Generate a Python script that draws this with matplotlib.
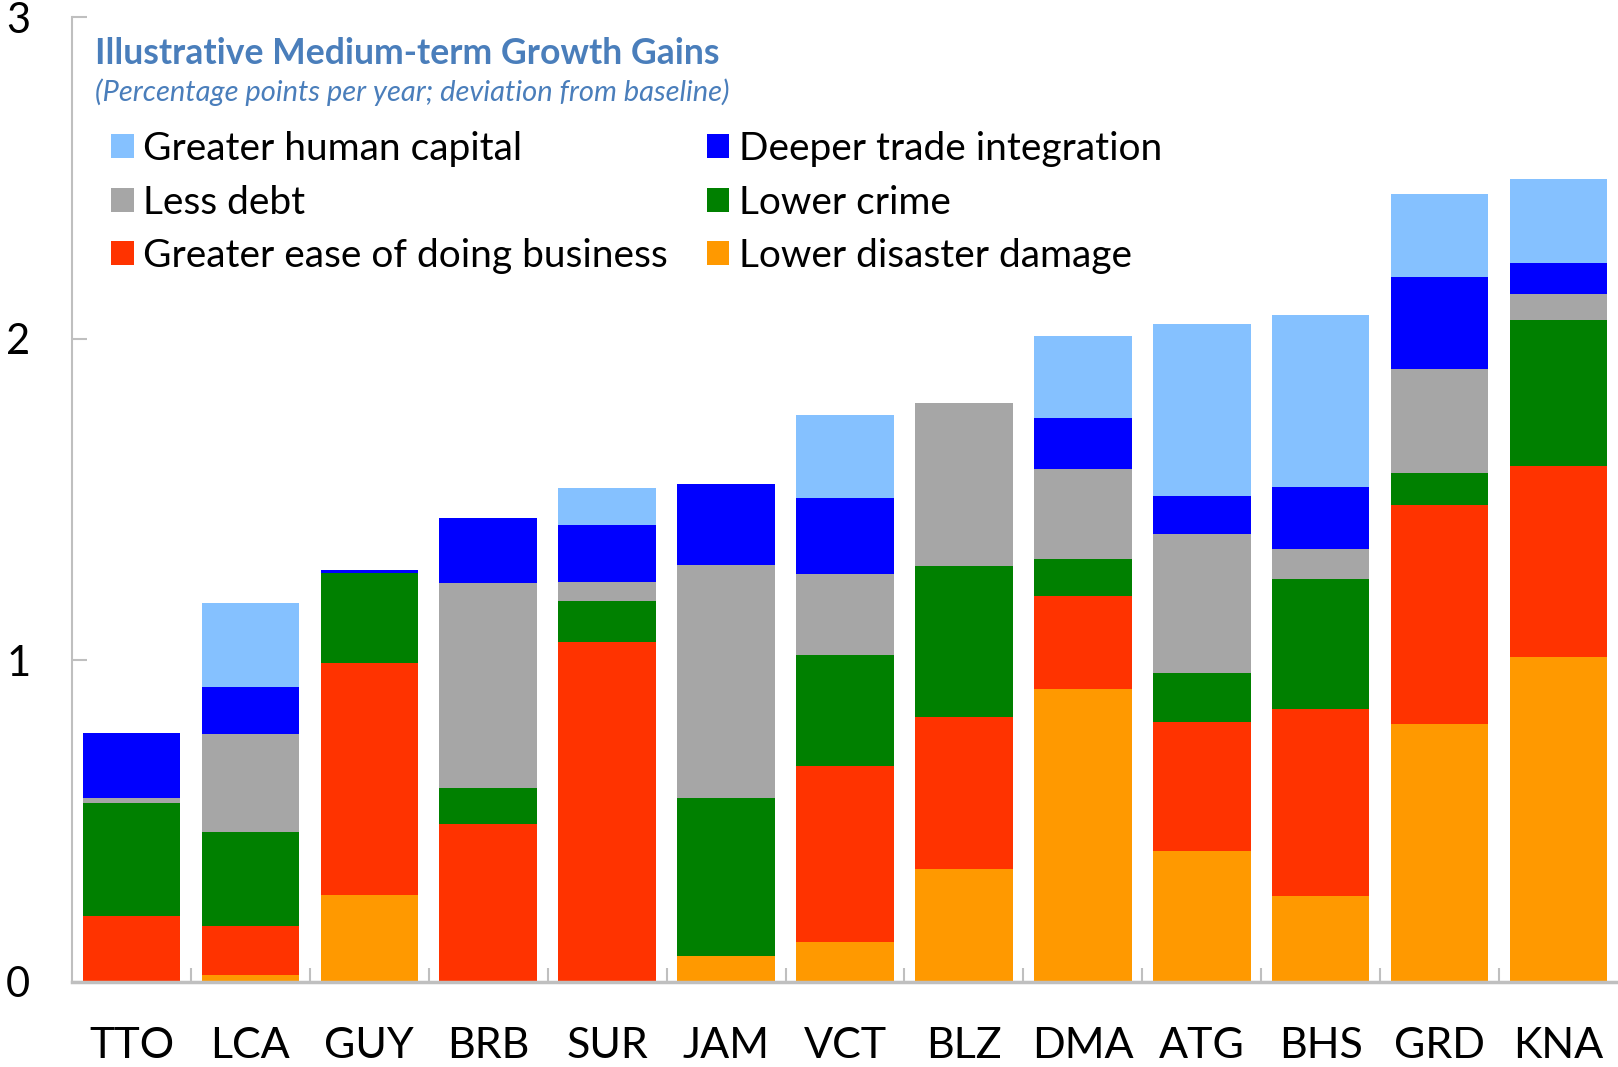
import numpy as np
import matplotlib.pyplot as plt
from matplotlib.patches import Patch

plt.rcParams['font.family'] = ['Lato', 'Noto Sans', 'DejaVu Sans']

countries = ["TTO", "LCA", "GUY", "BRB", "SUR", "JAM", "VCT",
             "BLZ", "DMA", "ATG", "BHS", "GRD", "KNA"]

# stacked from the bottom up
disaster = [0.000, 0.022, 0.269, 0.000, 0.000, 0.081, 0.122, 0.349, 0.911, 0.408, 0.265, 0.803, 1.011]
business = [0.204, 0.152, 0.724, 0.489, 1.057, 0.000, 0.548, 0.475, 0.288, 0.400, 0.584, 0.680, 0.594]
crime    = [0.351, 0.293, 0.277, 0.115, 0.126, 0.489, 0.345, 0.468, 0.117, 0.153, 0.405, 0.101, 0.454]
debt     = [0.017, 0.302, 0.003, 0.636, 0.060, 0.727, 0.253, 0.510, 0.280, 0.431, 0.092, 0.322, 0.081]
trade    = [0.203, 0.149, 0.008, 0.204, 0.178, 0.253, 0.237, 0.000, 0.157, 0.119, 0.194, 0.286, 0.097]
human    = [0.000, 0.259, 0.000, 0.000, 0.115, 0.000, 0.258, 0.000, 0.257, 0.535, 0.535, 0.258, 0.259]

series = [
    ("Lower disaster damage",           disaster, "#FF9900"),
    ("Greater ease of doing business",  business, "#FF3300"),
    ("Lower crime",                     crime,    "#008000"),
    ("Less debt",                       debt,     "#A6A6A6"),
    ("Deeper trade integration",        trade,    "#0000FF"),
    ("Greater human capital",           human,    "#85C1FF"),
]
colors = {name: c for name, _, c in series}

fig = plt.figure(figsize=(16.18, 10.67), dpi=100)
ax = fig.add_axes([0.0445, 0.0800, 0.9555, 0.9036])

x = np.arange(len(countries))
bottom = np.zeros(len(countries))
for name, vals, c in series:
    vals = np.array(vals)
    ax.bar(x, vals, width=0.82, bottom=bottom, color=c, edgecolor='none', zorder=2)
    bottom += vals

ax.set_xlim(-0.5, len(countries) - 0.5)
ax.set_ylim(0, 3)
ax.set_yticks([0, 1, 2, 3])
ax.set_xticks(x)
ax.set_xticklabels(countries, fontsize=31)
ax.set_xticks(np.arange(0.5, len(countries) - 0.5, 1), minor=True)
ax.tick_params(axis='x', which='major', length=0, pad=33)
ax.tick_params(axis='x', which='minor', direction='in', length=10, width=1.5, color='#BFBFBF')
ax.tick_params(axis='y', direction='in', length=11, width=1.5, color='#BFBFBF',
               labelsize=30, pad=30)

for s in ['top', 'right']:
    ax.spines[s].set_visible(False)
ax.spines['left'].set_color('#BFBFBF')
ax.spines['left'].set_linewidth(1.5)
ax.spines['bottom'].set_color('#BFBFBF')
ax.spines['bottom'].set_linewidth(2.5)

title_c = '#4A7EBB'
fig.text(0.0587, 0.940, "Illustrative Medium-term Growth Gains", fontsize=25.6,
         fontweight='bold', color=title_c, va='baseline')
fig.text(0.0587, 0.905, "(Percentage points per year; deviation from baseline)",
         fontsize=21, style='italic', color=title_c, va='baseline')

order = ["Greater human capital", "Less debt", "Greater ease of doing business",
         "Deeper trade integration", "Lower crime", "Lower disaster damage"]
handles = [Patch(facecolor=colors[n], edgecolor='none') for n in order]
fig.legend(handles, order, loc='upper left', bbox_to_anchor=(111 / 1618, 1 - 131 / 1067),
           ncol=2, frameon=False, fontsize=28, handlelength=0.58, handleheight=0.58,
           handletextpad=0.25, columnspacing=1.0, labelspacing=0.45,
           borderpad=0, borderaxespad=0)

plt.savefig("out.png", dpi=100)
